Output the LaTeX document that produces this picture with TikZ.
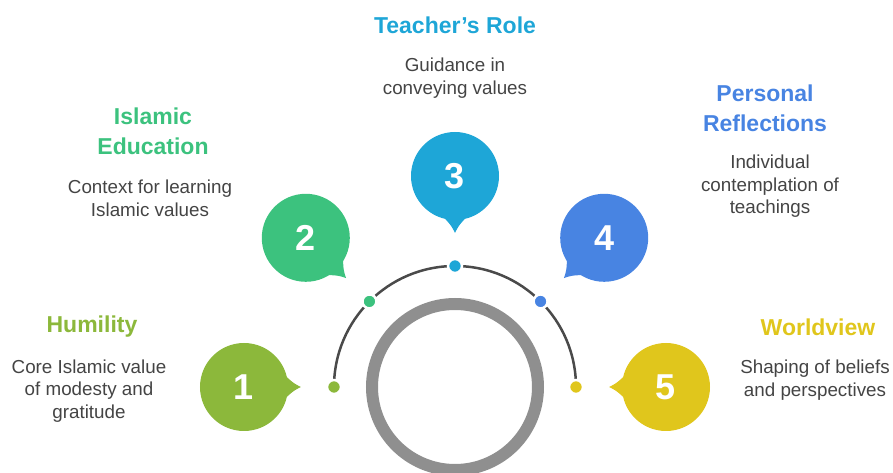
\documentclass[tikz,border=0pt]{standalone}
\usepackage{fontspec}
\setmainfont{Liberation Sans}
\usetikzlibrary{calc}
\definecolor{humility}{HTML}{8CB83B}
\definecolor{education}{HTML}{3CC27E}
\definecolor{teacher}{HTML}{1EA6D7}
\definecolor{reflect}{HTML}{4884E2}
\definecolor{world}{HTML}{E0C61C}
\definecolor{desctext}{HTML}{444444}
\definecolor{ringgray}{HTML}{8F8F8F}
\definecolor{arcgray}{HTML}{4A4A4A}
\tikzset{
  bubble/.style={circle, fill=#1, minimum size=88pt, inner sep=0pt, text=white,
    font=\fontsize{36}{36}\selectfont\bfseries},
  dot/.style={circle, fill=#1, draw=white, line width=2.5pt, minimum size=14pt, inner sep=0pt},
  title/.style={text=#1, align=center, font=\fontsize{23}{30}\selectfont\bfseries},
  desc/.style={text=desctext, align=center, font=\fontsize{18.8}{22.5}\selectfont},
}
\begin{document}
\begin{tikzpicture}[x=1pt,y=1pt]
\useasboundingbox (-455,-86) rectangle (438,387);
\draw[ringgray, line width=12pt] (0,0) circle[radius=83];
\draw[arcgray, line width=2.5pt] (180:121) arc[start angle=180, end angle=0, radius=121];
\foreach \n/\a/\c in {1/180/humility, 2/135/education, 3/90/teacher, 4/45/reflect, 5/0/world}{
  \node[bubble=\c] (b\n) at (\a:211) {\n};
  % pointer towards the ring, with hollow sides
  \fill[\c] ($(b\n)+(\a+163:42)$) .. controls ($(b\n)+(\a+176:50)$) .. ($(b\n)+(\a+180:57)$)
    .. controls ($(b\n)+(\a+184:50)$) .. ($(b\n)+(\a+197:42)$) -- cycle;
  \node[dot=\c] (d\n) at (\a:121) {};
}
\node[title=humility] (t1) at (-363,60) {Humility};
\node[desc] (s1) at (-366,-4) {Core Islamic value\\of modesty and\\gratitude};
\node[title=education] (t2) at (-302,256) {Islamic\\Education};
\node[desc] (s2) at (-305,188.5) {Context for learning\\Islamic values};
\node[title=teacher] (t3) at (0,362) {Teacher's Role};
\node[desc] (s3) at (0,309) {Guidance in\\conveying values};
\node[title=reflect] (t4) at (310,279) {Personal\\Reflections};
\node[desc] (s4) at (315,200.5) {Individual\\contemplation of\\teachings};
\node[title=world] (t5) at (363,60) {Worldview};
\node[desc] (s5) at (360,7) {Shaping of beliefs\\and perspectives};
\end{tikzpicture}
\end{document}
